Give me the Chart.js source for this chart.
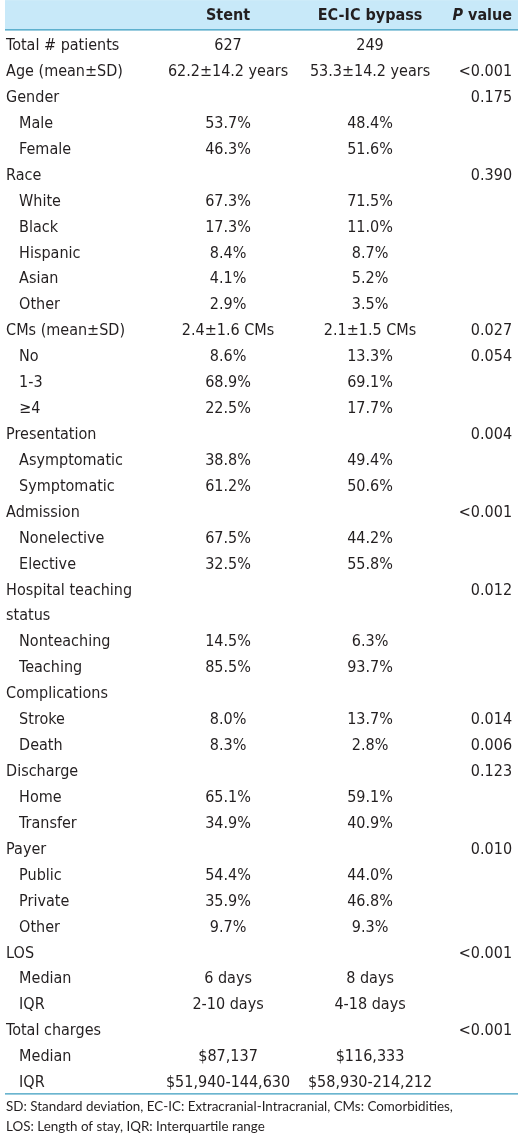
<!DOCTYPE html>
<html>
<head>
<meta charset="utf-8">
<script src="https://cdn.jsdelivr.net/npm/chart.js@4.4.0/dist/chart.umd.min.js"></script>
<style>
  html, body { margin: 0; padding: 0; background: #fff; }
  canvas { display: block; }
</style>
</head>
<body>
<canvas id="tableChart" width="518" height="1137"></canvas>
<script>
// column headers
const columnHeaders = ["Stent", "EC-IC bypass", "P value"];

// row labels and indent level (0 = group, 1 = sub item)
const rowLabels = [
    "Total # patients", "Age (mean\u00b1SD)", "Gender", "Male", "Female",
    "Race", "White", "Black", "Hispanic", "Asian", "Other",
    "CMs (mean\u00b1SD)", "No", "1-3", "\u22654",
    "Presentation", "Asymptomatic", "Symptomatic",
    "Admission", "Nonelective", "Elective",
    "Hospital teaching", "status", "Nonteaching", "Teaching",
    "Complications", "Stroke", "Death",
    "Discharge", "Home", "Transfer",
    "Payer", "Public", "Private", "Other",
    "LOS", "Median", "IQR",
    "Total charges", "Median", "IQR"
];
const rowIndent = [
    0, 0, 0, 1, 1,
    0, 1, 1, 1, 1, 1,
    0, 1, 1, 1,
    0, 1, 1,
    0, 1, 1,
    0, 0, 1, 1,
    0, 1, 1,
    0, 1, 1,
    0, 1, 1, 1,
    0, 1, 1,
    0, 1, 1
];

const stentValues = [
    "627", "62.2\u00b114.2 years", "", "53.7%", "46.3%",
    "", "67.3%", "17.3%", "8.4%", "4.1%", "2.9%",
    "2.4\u00b11.6 CMs", "8.6%", "68.9%", "22.5%",
    "", "38.8%", "61.2%",
    "", "67.5%", "32.5%",
    "", "", "14.5%", "85.5%",
    "", "8.0%", "8.3%",
    "", "65.1%", "34.9%",
    "", "54.4%", "35.9%", "9.7%",
    "", "6 days", "2-10 days",
    "", "$87,137", "$51,940-144,630"
];

const bypassValues = [
    "249", "53.3\u00b114.2 years", "", "48.4%", "51.6%",
    "", "71.5%", "11.0%", "8.7%", "5.2%", "3.5%",
    "2.1\u00b11.5 CMs", "13.3%", "69.1%", "17.7%",
    "", "49.4%", "50.6%",
    "", "44.2%", "55.8%",
    "", "", "6.3%", "93.7%",
    "", "13.7%", "2.8%",
    "", "59.1%", "40.9%",
    "", "44.0%", "46.8%", "9.3%",
    "", "8 days", "4-18 days",
    "", "$116,333", "$58,930-214,212"
];

const pValues = [
    "", "<0.001", "0.175", "", "",
    "0.390", "", "", "", "", "",
    "0.027", "0.054", "", "",
    "0.004", "", "",
    "<0.001", "", "",
    "0.012", "", "", "",
    "", "0.014", "0.006",
    "0.123", "", "",
    "0.010", "", "", "",
    "<0.001", "", "",
    "<0.001", "", ""
];

const footnotes = [
    "SD: Standard deviation, EC-IC: Extracranial-Intracranial, CMs: Comorbidities,",
    "LOS: Length of stay, IQR: Interquartile range"
];

const TEXT = "#231f20";
const CELL_FONT = '16px "Liberation Sans Narrow", "DejaVu Sans Condensed", "Arial Narrow", sans-serif';
const HEAD_FONT = 'bold 16px "Liberation Sans Narrow", "DejaVu Sans Condensed", "Arial Narrow", sans-serif';
const HEAD_FONT_IT = 'italic bold 16px "Liberation Sans Narrow", "DejaVu Sans Condensed", "Arial Narrow", sans-serif';
const NOTE_FONT = '13.4px Lato, "Open Sans", sans-serif';

const HEADER_ROW = -1.16;
const LABEL_X = -0.563;

function rowPoints(x, texts) {
    return texts.map((t, i) => ({ x: x, y: i }));
}

const tablePlugin = {
    id: "tableText",
    beforeDatasetsDraw(chart) {
        const ctx = chart.ctx;
        const y = chart.scales.y;
        const left = chart.chartArea.left + 5;
        const right = chart.chartArea.right;
        const top = y.getPixelForValue(-1.77);
        const line = y.getPixelForValue(-0.62);
        ctx.save();
        ctx.fillStyle = "#c8e9f9";
        ctx.fillRect(left, top, right - left, line - top);
        ctx.strokeStyle = "#3a9cbf";
        ctx.lineWidth = 1.3;
        [line, y.getPixelForValue(40.42)].forEach(py => {
            ctx.beginPath();
            ctx.moveTo(left, py);
            ctx.lineTo(right, py);
            ctx.stroke();
        });
        ctx.restore();
    },
    afterDatasetsDraw(chart) {
        const ctx = chart.ctx;
        ctx.save();
        ctx.fillStyle = TEXT;
        ctx.textBaseline = "middle";
        chart.data.datasets.forEach((ds, di) => {
            const meta = chart.getDatasetMeta(di);
            meta.data.forEach((pt, i) => {
                const txt = ds.texts[i];
                if (!txt) return;
                ctx.textAlign = ds.align;
                if (ds.kind === "note") {
                    ctx.font = NOTE_FONT;
                    ctx.fillText(txt, pt.x, pt.y);
                } else if (ds.kind === "head" && txt === "P value") {
                    ctx.textAlign = "left";
                    ctx.font = HEAD_FONT;
                    const w2 = ctx.measureText(" value").width;
                    ctx.font = HEAD_FONT_IT;
                    const w1 = ctx.measureText("P").width;
                    ctx.fillText("P", pt.x - w1 - w2, pt.y);
                    ctx.font = HEAD_FONT;
                    ctx.fillText(" value", pt.x - w2, pt.y);
                } else {
                    ctx.font = ds.kind === "head" ? HEAD_FONT : CELL_FONT;
                    const dx = ds.kind === "label" ? rowIndent[i] * 13 : 0;
                    ctx.fillText(txt, pt.x + dx, pt.y);
                }
            });
        });
        ctx.restore();
    }
};

const hidden = { pointRadius: 0, pointHoverRadius: 0, showLine: false };

new Chart(document.getElementById("tableChart"), {
    type: "scatter",
    data: {
        datasets: [
            { ...hidden, kind: "head", align: "center", texts: columnHeaders,
              data: columnHeaders.map((t, i) => ({ x: i + 1, y: HEADER_ROW })) },
            { ...hidden, kind: "label", align: "left", texts: rowLabels, data: rowPoints(LABEL_X, rowLabels) },
            { ...hidden, kind: "cell", align: "center", texts: stentValues, data: rowPoints(1, stentValues) },
            { ...hidden, kind: "cell", align: "center", texts: bypassValues, data: rowPoints(2, bypassValues) },
            { ...hidden, kind: "cell", align: "right", texts: pValues, data: rowPoints(3, pValues) },
            { ...hidden, kind: "note", align: "left", texts: footnotes,
              data: footnotes.map((t, i) => ({ x: LABEL_X, y: 40.93 + i * 0.77 })) }
        ]
    },
    options: {
        responsive: false,
        animation: false,
        devicePixelRatio: 1,
        layout: { padding: 0 },
        events: [],
        plugins: { legend: { display: false }, tooltip: { enabled: false } },
        scales: {
            x: { type: "linear", min: -0.606, max: 3.042, display: false },
            y: { type: "linear", min: -1.774, max: 42.084, reverse: true, display: false }
        }
    },
    plugins: [tablePlugin]
});
</script>
</body>
</html>
